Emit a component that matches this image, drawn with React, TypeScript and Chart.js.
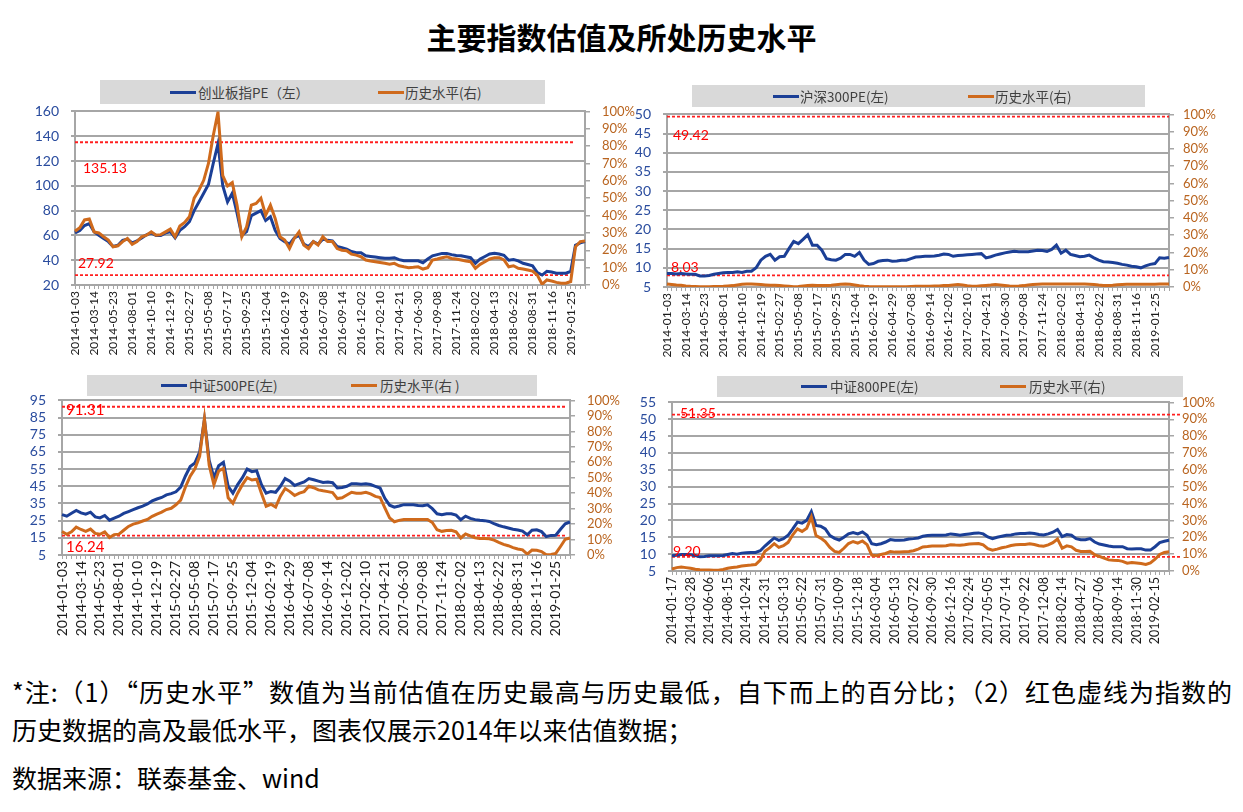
import React, { useEffect, useRef } from 'react';
import { Chart, registerables } from 'chart.js';

Chart.register(...registerables);

// ---------- tick labels (every 10 trading weeks) ----------
const ticksMain = [
  '2014-01-03', '2014-03-14', '2014-05-23', '2014-08-01', '2014-10-10', '2014-12-19',
  '2015-02-27', '2015-05-08', '2015-07-17', '2015-09-25', '2015-12-04', '2016-02-19',
  '2016-04-29', '2016-07-08', '2016-09-14', '2016-12-02', '2017-02-10', '2017-04-21',
  '2017-06-30', '2017-09-08', '2017-11-24', '2018-02-02', '2018-04-13', '2018-06-22',
  '2018-08-31', '2018-11-16', '2019-01-25',
];
const ticks800 = [
  '2014-01-17', '2014-03-28', '2014-06-06', '2014-08-15', '2014-10-24', '2014-12-31',
  '2015-03-13', '2015-05-22', '2015-07-31', '2015-10-09', '2015-12-18', '2016-03-04',
  '2016-05-13', '2016-07-22', '2016-09-30', '2016-12-16', '2017-02-24', '2017-05-05',
  '2017-07-14', '2017-09-22', '2017-12-08', '2018-02-14', '2018-04-27', '2018-07-06',
  '2018-09-14', '2018-11-30', '2019-02-15',
];
const POINTS_PER_TICK = 4;

// ---------- 创业板指 ----------
const cybPE = [
  62, 64, 68, 69.5, 63, 60, 57.5, 55, 51, 52,
  56, 57, 54, 55.5, 58, 60.5, 62, 60, 60, 62,
  63, 58, 64, 67, 71, 80, 87, 94, 101, 118,
  134, 100, 87, 94, 78, 60, 63, 76, 78, 80,
  72, 75, 64, 57.5, 55, 53, 58, 60, 53, 51,
  55, 53, 57, 56, 55.5, 51, 50, 49, 47, 46,
  46, 43.5, 43, 42.5, 42, 41.5, 41.5, 42, 40.5, 39.5,
  39.5, 39.5, 39.5, 38, 41, 43.5, 44.5, 45.5, 45.5, 44.5,
  43.8, 43.5, 42.8, 42, 37.5, 41, 43, 45, 45.5, 45,
  44, 40, 40.5, 39.5, 37.5, 36.5, 35.5, 30, 28, 31,
  30.5, 29.5, 29.5, 29.5, 31, 52, 54, 55,
];
const cybLevel = [
  31, 33, 37.5, 38, 30.6, 30, 27.8, 25.9, 22, 22.6,
  25, 26.8, 23.4, 25, 27.8, 28.7, 30.6, 28.7, 29, 30.6,
  32.2, 27.8, 34, 36, 39.3, 50, 54.6, 60.3, 70, 86,
  99.6, 63, 57, 59, 46, 27.8, 33.5, 46, 47, 50,
  40.2, 46, 38.3, 27.8, 25.9, 21, 26.8, 30.6, 23, 21,
  25, 23, 27.8, 25, 25, 21, 20, 19.7, 17.8, 17.2,
  16.3, 14.4, 13.8, 13.4, 13, 12.5, 12, 12.5, 11.1, 10.5,
  10, 10.2, 10.5, 9.2, 10, 14.4, 15, 15.7, 16.3, 15.3,
  15, 14.4, 13.8, 13.4, 9.6, 11.9, 13.4, 15, 15.7, 15.7,
  14.4, 10.5, 11.1, 9.6, 9.2, 8.6, 8, 5.7, 0.4, 2.9,
  2.3, 1.5, 1, 1, 2, 22, 25, 25.3,
];

// ---------- 沪深300 ----------
const hs300PE = [
  8.5, 8.5, 8.4, 8.5, 8.4, 8.3, 8.3, 7.9, 7.9, 8.0,
  8.3, 8.5, 8.7, 8.8, 8.8, 9.0, 8.8, 9.1, 9.1, 10.0,
  12.0, 13.0, 13.5, 12.0, 12.9, 13.0, 15.0, 16.9, 16.3, 17.4,
  18.6, 15.9, 15.9, 14.6, 12.4, 12.1, 12.0, 12.5, 13.5, 13.5,
  13.0, 14.0, 12.0, 10.9, 11.1, 11.7, 11.9, 12.0, 11.7, 11.8,
  12.0, 12.0, 12.4, 12.8, 12.9, 13.0, 13.0, 13.1, 13.3, 13.6,
  13.5, 13.0, 13.2, 13.3, 13.4, 13.5, 13.6, 13.7, 12.6, 12.9,
  13.3, 13.6, 13.9, 14.1, 14.3, 14.2, 14.2, 14.2, 14.4, 14.6,
  14.5, 14.3, 14.8, 15.9, 13.8, 14.6, 13.5, 13.2, 12.9, 13.0,
  13.3, 12.6, 12.0, 11.6, 11.5, 11.4, 11.2, 10.9, 10.7, 10.4,
  10.3, 10.0, 10.5, 10.9, 11.1, 12.6, 12.5, 12.7,
];
const hs300Level = [
  1.8, 1.5, 1.2, 1.0, 0.6, 0.4, 0.3, 0.2, 0.2, 0.2,
  0.3, 0.3, 0.4, 0.6, 0.8, 1.2, 1.6, 1.8, 1.8, 1.6,
  1.4, 1.2, 1.0, 1.0, 0.8, 0.6, 0.4, 0.2, 0.3, 0.6,
  0.8, 1.0, 0.9, 0.8, 0.8, 1.0, 1.3, 1.6, 1.8, 1.6,
  1.2, 0.8, 0.5, 0.3, 0.2, 0.2, 0.2, 0.2, 0.2, 0.2,
  0.2, 0.2, 0.3, 0.4, 0.5, 0.5, 0.5, 0.6, 0.6, 0.8,
  0.9, 1.2, 1.4, 1.2, 0.8, 0.5, 0.5, 0.7, 0.9, 1.1,
  1.4, 1.2, 0.9, 0.6, 0.5, 0.6, 0.8, 1.1, 1.4, 1.6,
  1.7, 1.8, 1.8, 1.8, 1.8, 1.8, 1.7, 1.7, 1.7, 1.7,
  1.6, 1.4, 1.1, 0.9, 0.8, 1.0, 1.3, 1.5, 1.6, 1.6,
  1.6, 1.6, 1.6, 1.6, 1.6, 1.7, 1.7, 1.7,
];

// ---------- 中证500 ----------
const zz500PE = [
  28.5, 27.6, 29.3, 30.9, 29.5, 28.8, 29.9, 27.2, 26.6, 28.0,
  25.3, 26.5, 27.6, 29.2, 30.3, 31.4, 32.5, 33.4, 34.7, 36.5,
  37.6, 38.5, 40.0, 40.7, 41.8, 44.5, 51.0, 56.5, 58.6, 65.0,
  84.0, 60.0, 50.0, 57.0, 59.0, 45.0, 41.0, 46.0, 50.0, 55.0,
  53.5, 54.0, 46.0, 41.0, 42.0, 41.5, 45.0, 49.5, 48.0, 45.5,
  46.5, 47.5, 49.5, 48.8, 48.0, 47.2, 47.5, 47.1, 44.0, 44.3,
  45.0, 46.5, 46.5, 46.2, 46.5, 46.0, 45.0, 44.0, 38.0, 34.0,
  32.8, 33.5, 34.3, 34.3, 34.3, 33.8, 33.7, 34.2, 32.0, 29.0,
  28.4, 29.0, 29.0, 28.2, 25.5, 27.6, 26.3, 25.6, 25.2, 25.0,
  24.5, 23.2, 22.2, 21.4, 20.7, 20.0, 19.5, 18.9, 16.8, 19.4,
  19.7, 18.6, 15.7, 16.4, 16.5, 20.0, 23.2, 24.2,
];
const zz500Level = [
  15.2, 13.4, 15.0, 18.0, 16.5, 15.3, 16.8, 14.0, 13.4, 14.9,
  11.3, 13.2, 13.5, 16.0, 18.5, 20.0, 20.8, 22.0, 23.0, 25.0,
  26.5, 27.7, 29.4, 30.2, 32.5, 35.5, 44.0, 51.0, 55.8, 64.0,
  88.0, 58.0, 45.5, 54.3, 56.0, 37.0, 33.5, 40.0, 45.5, 50.0,
  48.5, 49.0, 40.0, 31.5, 32.8, 31.0, 38.0, 43.0, 41.0, 38.5,
  40.0, 41.0, 44.5, 43.5, 42.1, 41.5, 41.0, 40.4, 36.5, 37.0,
  38.8, 40.6, 40.0, 40.0, 40.5, 39.5, 37.9, 37.2, 30.5, 24.0,
  21.5, 22.4, 23.0, 23.0, 23.0, 23.0, 23.0, 23.0, 21.0, 16.3,
  15.3, 15.8, 16.0, 15.0, 11.0, 13.6, 12.4, 11.2, 10.7, 10.6,
  10.5, 9.6, 8.2, 6.9, 6.0, 4.8, 3.9, 3.3, 0.6, 3.2,
  3.1, 2.2, 0.1, 0.4, 1.0, 5.5, 10.2, 11.0,
];

// ---------- 中证800 ----------
const zz800PE = [
  9.5, 9.7, 9.9, 9.9, 9.8, 9.6, 9.2, 9.3, 9.5, 9.5,
  9.5, 9.6, 9.9, 10.2, 10.0, 10.3, 10.4, 10.5, 10.5, 11.0,
  12.4, 13.6, 14.8, 14.1, 14.6, 15.6, 17.5, 19.5, 19.2, 20.0,
  22.6, 18.5, 18.3, 17.5, 15.5, 14.7, 14.2, 15.0, 16.0, 16.4,
  16.0, 16.6, 15.6, 13.1, 12.8, 13.1, 13.6, 14.3, 14.1, 14.1,
  14.2, 14.5, 14.6, 14.8, 15.3, 15.5, 15.6, 15.6, 15.6, 15.7,
  16.0, 15.8, 15.6, 15.8, 16.0, 16.2, 16.3, 16.0, 15.1, 14.6,
  15.0, 15.3, 15.6, 15.7, 16.0, 16.1, 16.1, 16.3, 16.1, 15.8,
  15.7, 16.0, 16.5, 17.3, 15.2, 15.8, 15.6, 14.6, 14.3, 14.3,
  14.6, 13.6, 13.0, 12.7, 12.4, 12.2, 12.2, 12.2, 11.6, 11.5,
  11.6, 11.6, 11.2, 11.2, 12.2, 13.4, 13.8, 14.1,
];
const zz800Level = [
  1.2, 2.0, 2.3, 2.0, 1.6, 1.0, 0.7, 0.6, 0.6, 0.5,
  0.4, 0.9, 1.6, 2.1, 2.4, 3.0, 3.3, 3.5, 3.8, 6.5,
  11.7, 13.7, 16.2, 14.0, 15.0, 17.0, 21.5, 25.0, 23.5, 25.4,
  32.0, 21.0, 19.5, 17.5, 14.0, 11.6, 11.0, 13.5, 16.3, 17.5,
  16.5, 17.8, 15.6, 9.4, 9.0, 9.8, 10.4, 11.6, 11.2, 11.2,
  11.4, 11.6, 12.0, 13.0, 14.3, 14.5, 14.8, 14.9, 14.9, 15.0,
  15.6, 15.4, 15.3, 15.6, 16.0, 16.2, 16.3, 15.5, 13.3, 12.3,
  13.0, 13.8, 14.3, 15.1, 15.6, 15.7, 15.7, 16.1, 15.7, 15.0,
  14.7, 15.5, 16.8, 19.0, 13.5, 14.9, 14.3, 12.3, 11.6, 11.5,
  11.7, 9.6, 8.7, 7.6, 6.6, 6.4, 6.3, 5.7, 4.6, 5.0,
  4.7, 4.4, 3.9, 4.8, 7.0, 9.8, 11.0, 11.4,
];

// ---------- historical high / low ----------
const peakValues = [135.13, 49.42, 91.31, 51.35];
const troughValues = [27.92, 8.03, 16.24, 9.2];

const peNames = ['创业板指PE（左）', '沪深300PE(左)', '中证500PE(左)', '中证800PE(左)'];
const levelNames = ['历史水平(右)', '历史水平(右)', '历史水平(右 )', '历史水平(右)'];

const leftMin = [20, 5, 5, 5];
const leftMax = [160, 50, 95, 55];
const leftStep = [20, 5, 10, 5];

// ---------- styles ----------
const BLUE = '#1b3f96';
const ORANGE = '#cf6a1c';
const RED = '#ff1f1f';
const GRID = '#a6a6a6';
const LEFT_TICK = '#2a4c9e';
const RIGHT_TICK = '#b9641f';
const FONT = "Lato, 'Liberation Sans', sans-serif";
const CJK = "'Noto Sans CJK SC', 'Noto Sans', sans-serif";

const layouts = [
  {
    canvas: { left: 15, top: 91, width: 620, height: 269 }, leftW: 60, rightW: 50, xH: 75, xFont: 12,
    lineExtend: -11, lblFont: 14, peakLbl: { dx: 8, dy: 26 }, troughLbl: { dx: 3, dy: -12 }, rightPad: 12,
    legend: { box: [100, 80, 445, 24], blue: 170, blueText: 198, orange: 378, orangeText: 405 },
  },
  {
    canvas: { left: 615, top: 94, width: 620, height: 268 }, leftW: 52, rightW: 66, xH: 75, xFont: 12,
    lineExtend: 0, lblFont: 14, peakLbl: { dx: 6, dy: 19 }, troughLbl: { dx: 4, dy: -8 }, rightPad: 9,
    legend: { box: [692, 85, 453, 22], blue: 773, blueText: 800, orange: 968, orangeText: 995 },
  },
  {
    canvas: { left: 10, top: 380, width: 620, height: 260 }, leftW: 52, rightW: 60, xH: 85, xFont: 14,
    lineExtend: -3, lblFont: 15, peakLbl: { dx: 4, dy: 3 }, troughLbl: { dx: 4, dy: 11 }, rightPad: 12,
    legend: { box: [87, 375, 450, 21], blue: 161, blueText: 189, orange: 351, orangeText: 380 },
  },
  {
    canvas: { left: 620, top: 382, width: 615, height: 269 }, leftW: 52, rightW: 66, xH: 80, xFont: 12.5,
    lineExtend: 13, lblFont: 14, peakLbl: { dx: 8, dy: -1 }, troughLbl: { dx: 1, dy: -5 }, rightPad: 8,
    legend: { box: [717, 376, 466, 21], blue: 801, blueText: 830, orange: 1000, orangeText: 1029 },
  },
];

const peSeries = [cybPE, hs300PE, zz500PE, zz800PE];
const levelSeries = [cybLevel, hs300Level, zz500Level, zz800Level];
const tickSets = [ticksMain, ticksMain, ticksMain, ticks800];

function buildCategories(ticks: string[], n: number): string[] {
  return Array.from({ length: n }, (_, i) =>
    i % POINTS_PER_TICK === 0 && i / POINTS_PER_TICK < ticks.length ? ticks[i / POINTS_PER_TICK] : ''
  );
}

function makeRefPlugin(idx: number) {
  const lay = layouts[idx];
  return {
    id: 'refLines' + idx,
    beforeDatasetsDraw(chart: any) {
      const { ctx, chartArea, scales } = chart;
      ctx.save();
      ctx.strokeStyle = RED;
      ctx.lineWidth = 1.8;
      ctx.setLineDash([3, 2]);
      [peakValues[idx], troughValues[idx]].forEach((v) => {
        const y = scales.y.getPixelForValue(v);
        ctx.beginPath();
        ctx.moveTo(chartArea.left, y);
        ctx.lineTo(chartArea.right + lay.lineExtend, y);
        ctx.stroke();
      });
      ctx.restore();
    },
    afterDatasetsDraw(chart: any) {
      const { ctx, chartArea, scales } = chart;
      ctx.save();
      ctx.fillStyle = '#ff0000';
      ctx.font = `${lay.lblFont}px ${FONT}`;
      ctx.textBaseline = 'middle';
      ctx.textAlign = 'left';
      const items = [
        { v: peakValues[idx], p: lay.peakLbl },
        { v: troughValues[idx], p: lay.troughLbl },
      ];
      items.forEach(({ v, p }) => {
        const y = scales.y.getPixelForValue(v) + p.dy;
        ctx.fillText(v.toFixed(2), chartArea.left + p.dx, y);
      });
      ctx.restore();
    },
  };
}

function Panel({ idx }: { idx: number }) {
  const ref = useRef<HTMLCanvasElement>(null);
  const lay = layouts[idx];
  useEffect(() => {
    const labels = buildCategories(tickSets[idx], peSeries[idx].length);
    const chart = new Chart(ref.current as HTMLCanvasElement, {
      type: 'line',
      data: {
        labels,
        datasets: [
          {
            label: levelNames[idx],
            data: levelSeries[idx],
            yAxisID: 'y1',
            borderColor: ORANGE,
            backgroundColor: ORANGE,
            borderWidth: 3,
            pointRadius: 0,
            tension: 0,
            order: 0,
          },
          {
            label: peNames[idx],
            data: peSeries[idx],
            yAxisID: 'y',
            borderColor: BLUE,
            backgroundColor: BLUE,
            borderWidth: 3,
            pointRadius: 0,
            tension: 0,
            order: 1,
          },
        ],
      },
      options: {
        animation: false,
        responsive: false,
        maintainAspectRatio: false,
        events: [],
        layout: { padding: { top: 10, left: 0, right: 0, bottom: 0 } },
        plugins: { legend: { display: false }, tooltip: { enabled: false } },
        scales: {
          x: {
            type: 'category',
            grid: { display: true, drawOnChartArea: false, tickLength: 4, color: GRID, lineWidth: 1 },
            border: { color: GRID, width: 2 },
            ticks: {
              autoSkip: false,
              minRotation: 90,
              maxRotation: 90,
              padding: 2,
              color: '#1a1a1a',
              font: { family: FONT, size: lay.xFont },
            },
            afterFit: (s: any) => {
              s.height = lay.xH;
            },
          },
          y: {
            position: 'left',
            min: leftMin[idx],
            max: leftMax[idx],
            ticks: {
              stepSize: leftStep[idx],
              autoSkip: false,
              padding: 12,
              color: LEFT_TICK,
              font: { family: FONT, size: 14 },
            },
            grid: { color: GRID, lineWidth: 2, tickLength: 4 },
            border: { color: GRID, width: 2 },
            afterFit: (s: any) => {
              s.width = lay.leftW;
            },
          },
          y1: {
            position: 'right',
            min: 0,
            max: 100,
            ticks: {
              stepSize: 10,
              autoSkip: false,
              padding: lay.rightPad,
              color: RIGHT_TICK,
              font: { family: FONT, size: 13 },
              callback: (v: any) => `${v}%`,
            },
            grid: { drawOnChartArea: false, tickLength: 5, color: GRID, lineWidth: 1.5 },
            border: { color: GRID, width: 2 },
            afterFit: (s: any) => {
              s.width = lay.rightW;
            },
          },
        },
      } as any,
      plugins: [makeRefPlugin(idx)],
    });
    return () => chart.destroy();
  }, [idx]);

  const c = lay.canvas;
  const lg = lay.legend;
  const textStyle: React.CSSProperties = {
    position: 'absolute',
    top: lg.box[1],
    height: lg.box[3],
    lineHeight: `${lg.box[3]}px`,
    fontFamily: CJK,
    fontSize: 13.5,
    color: '#404040',
    whiteSpace: 'nowrap',
  };
  const lineStyle = (x: number, color: string): React.CSSProperties => ({
    position: 'absolute',
    left: x,
    top: lg.box[1] + lg.box[3] / 2 - 1.5,
    width: 26,
    height: 3,
    background: color,
  });
  return (
    <>
      <div
        style={{
          position: 'absolute',
          left: lg.box[0],
          top: lg.box[1],
          width: lg.box[2],
          height: lg.box[3],
          background: '#d9d9d9',
        }}
      />
      <div style={lineStyle(lg.blue, BLUE)} />
      <div style={{ ...textStyle, left: lg.blueText }}>{peNames[idx]}</div>
      <div style={lineStyle(lg.orange, ORANGE)} />
      <div style={{ ...textStyle, left: lg.orangeText }}>{levelNames[idx]}</div>
      <canvas
        ref={ref}
        width={c.width}
        height={c.height}
        style={{ position: 'absolute', left: c.left, top: c.top, width: c.width, height: c.height }}
      />
    </>
  );
}

const titleText = '主要指数估值及所处历史水平';
const noteLines = [
  '*注:（1）“历史水平”数值为当前估值在历史最高与历史最低，自下而上的百分比；（2）红色虚线为指数的',
  '历史数据的高及最低水平，图表仅展示2014年以来估值数据；',
  '数据来源：联泰基金、wind',
];

export default function App() {
  const noteTops = [679, 717, 765];
  return (
    <div
      style={{
        position: 'absolute',
        left: 0,
        top: 0,
        width: 1243,
        height: 812,
        background: '#ffffff',
        overflow: 'hidden',
      }}
    >
      <div
        style={{
          position: 'absolute',
          left: 0,
          top: 21,
          width: 1243,
          textAlign: 'center',
          fontFamily: CJK,
          fontWeight: 700,
          fontSize: 30,
          lineHeight: '30px',
          color: '#000',
        }}
      >
        {titleText}
      </div>
      {[0, 1, 2, 3].map((i) => (
        <Panel key={i} idx={i} />
      ))}
      {noteLines.map((t, i) => (
        <div
          key={i}
          style={{
            position: 'absolute',
            left: 12,
            top: noteTops[i],
            width: i === 0 ? 1220 : 1200,
            fontFamily: CJK,
            fontSize: 25,
            lineHeight: '25px',
            color: '#000',
            whiteSpace: 'nowrap',
            textAlign: i === 0 ? 'justify' : 'left',
            textAlignLast: i === 0 ? 'justify' : 'auto',
          } as React.CSSProperties}
        >
          {t}
        </div>
      ))}
    </div>
  );
}
